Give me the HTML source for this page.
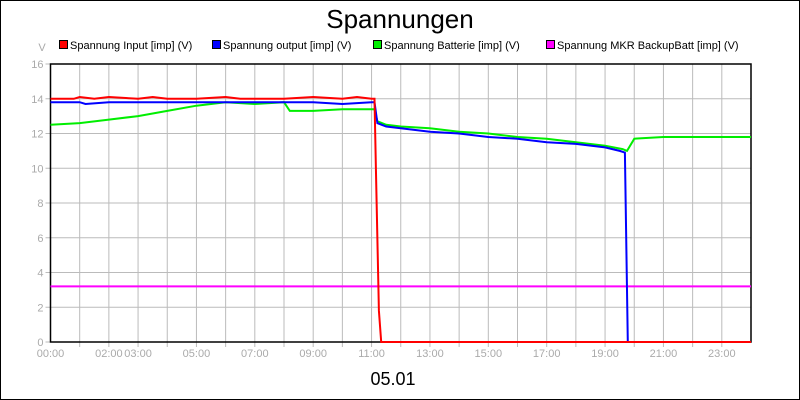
<!DOCTYPE html>
<html><head><meta charset="utf-8"><style>
html,body{margin:0;padding:0;background:#fff}
svg{display:block;font-family:"Liberation Sans",sans-serif}
</style></head><body>
<svg id="chart" width="800" height="400" xmlns="http://www.w3.org/2000/svg">
<rect x="0.5" y="0.5" width="799" height="399" fill="#fff" stroke="#000"/>
<text x="400" y="28" text-anchor="middle" font-size="26">Spannungen</text>
<g id="legend"></g>
<text x="42" y="51" text-anchor="middle" font-size="11" fill="#aaa">V</text>
<g id="grid"></g>
<g id="series"></g>
<text x="393" y="385" text-anchor="middle" font-size="18">05.01</text>
</svg>
<script>
const yTicks=[0,2,4,6,8,10,12,14,16];
const xTickHours=[0,2,3,5,7,9,11,13,15,17,19,21,23];
const xTickLabels=["00:00","02:00","03:00","05:00","07:00","09:00","11:00","13:00","15:00","17:00","19:00","21:00","23:00"];
const seriesNames=["Spannung Input [imp] (V)","Spannung output [imp] (V)","Spannung Batterie [imp] (V)","Spannung MKR BackupBatt [imp] (V)"];
const seriesColors=["#ff0000","#0000ff","#00ee00","#ff00ff"];
const inputT=[0,0.8,1,1.5,2,3,3.5,4,5,6,6.5,7,8,9,10,10.5,11,11.1,11.15,11.25,11.33,24];
const inputV=[14.0,14.0,14.1,14.0,14.1,14.0,14.1,14.0,14.0,14.1,14.0,14.0,14.0,14.1,14.0,14.1,14.0,14.0,10,1.8,0,0];
const outputT=[0,1,1.2,2,3,4,5,6,7,8,9,10,11,11.1,11.2,11.5,12,13,14,15,16,17,18,19,19.5,19.68,19.78,24];
const outputV=[13.8,13.8,13.7,13.8,13.8,13.8,13.8,13.8,13.8,13.8,13.8,13.7,13.8,13.8,12.6,12.4,12.3,12.1,12.0,11.8,11.7,11.5,11.4,11.2,11.0,10.9,0,0];
const battT=[0,1,2,3,4,5,6,7,8,8.2,9,10,11,11.1,11.2,11.5,12,13,14,15,16,17,18,19,19.6,19.75,20,21,24];
const battV=[12.5,12.6,12.8,13.0,13.3,13.6,13.8,13.7,13.8,13.3,13.3,13.4,13.4,13.4,12.7,12.5,12.4,12.3,12.1,12.0,11.8,11.7,11.5,11.3,11.1,11.0,11.7,11.8,11.8];
const backupT=[0,24];
const backupV=[3.2,3.2];

const X0=50.5,X1=751,Y0=342,Y1=64;
const sx=h=>X0+h*(X1-X0)/24;
const sy=v=>Y0-v*(Y0-Y1)/16;
const NS="http://www.w3.org/2000/svg";
function mk(tag,attrs,parent){const e=document.createElementNS(NS,tag);for(const k in attrs)e.setAttribute(k,attrs[k]);parent.appendChild(e);return e;}
const grid=document.getElementById('grid');
for(let h=1;h<24;h++){
  const l=mk('line',{x1:sx(h),x2:sx(h),y1:Y1,y2:Y0+5,stroke:'#bbb','stroke-width':1},grid);
  
  
}
yTicks.forEach(v=>{
  const l=mk('line',{x1:X0-5,x2:X1,y1:sy(v),y2:sy(v),stroke:'#bbb','stroke-width':1},grid);
  
  
  const t=mk('text',{x:X0-7,y:sy(v)+4,'text-anchor':'end','font-size':11,fill:'#aaa'},grid);
  t.textContent=v;
  
  
});
xTickHours.forEach((h,i)=>{
  const t=mk('text',{x:sx(h),y:357,'text-anchor':'middle','font-size':11,fill:'#aaa'},grid);
  t.textContent=xTickLabels[i];
  
  
});
const frame=mk('path',{d:`M${X0},${Y1} L${X1},${Y1} L${X1},${Y0} L${X0},${Y0} Z`,fill:'none',stroke:'#000','stroke-width':1.5},grid);


const ser=document.getElementById('series');
const allT=[inputT,outputT,battT,backupT],allV=[inputV,outputV,battV,backupV];
const serNames=['input-line','output-line','battery-line','backup-battery-line'];
[3,2,1,0].forEach(i=>{
  const d=allT[i].map((t,j)=>(j?'L':'M')+sx(t).toFixed(1)+','+sy(allV[i][j]).toFixed(1)).join(' ');
  const p=mk('path',{d:d,fill:'none',stroke:seriesColors[i],'stroke-width':2},ser);
  
  
});
const leg=document.getElementById('legend');
const legX=[59,212,373,546];
seriesNames.forEach((n,i)=>{
  const r=mk('rect',{x:legX[i]+0.5,y:40.5,width:8,height:8,fill:seriesColors[i],stroke:'#000'},leg);
  
  
  const t=mk('text',{x:legX[i]+11,y:49,'font-size':11},leg);
  t.textContent=n;
  
  
});
</script>
</body></html>
